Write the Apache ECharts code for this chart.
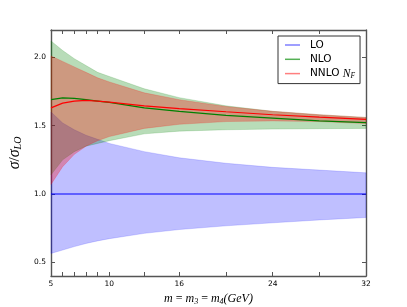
<!DOCTYPE html>
<html><head><meta charset="utf-8">
<script src="https://cdn.jsdelivr.net/npm/echarts@6/dist/echarts.min.js"></script>
<style>html,body{margin:0;padding:0;background:#fff}#c{width:407px;height:307px}</style>
</head><body><div id="c"></div>
<script>
const masses = [5, 6, 7, 8, 9, 10, 13, 16, 20, 24, 28, 32];
const xTickLabels = [5, 10, 16, 24, 32];
const yTickLabels = [0.5, 1.0, 1.5, 2.0];

const loCentral = [1, 1, 1, 1, 1, 1, 1, 1, 1, 1, 1, 1];
const loLower = [0.565, 0.59, 0.615, 0.638, 0.657, 0.673, 0.712, 0.74, 0.767, 0.789, 0.81, 0.828];
const loUpper = [1.60, 1.52, 1.47, 1.43, 1.40, 1.37, 1.31, 1.265, 1.225, 1.195, 1.175, 1.155];

const nloCentral = [1.69, 1.703, 1.70, 1.69, 1.68, 1.67, 1.63, 1.605, 1.575, 1.555, 1.535, 1.522];
const nloLower = [1.14, 1.25, 1.31, 1.35, 1.37, 1.39, 1.44, 1.46, 1.47, 1.475, 1.478, 1.48];
const nloUpper = [2.12, 2.05, 1.99, 1.94, 1.89, 1.86, 1.77, 1.705, 1.645, 1.605, 1.58, 1.56];

const nnloCentral = [1.63, 1.665, 1.68, 1.685, 1.68, 1.672, 1.645, 1.625, 1.602, 1.58, 1.562, 1.546];
const nnloLower = [1.07, 1.2, 1.29, 1.35, 1.39, 1.42, 1.48, 1.51, 1.53, 1.535, 1.53, 1.515];
const nnloUpper = [2.01, 1.97, 1.93, 1.89, 1.85, 1.82, 1.74, 1.69, 1.64, 1.605, 1.58, 1.56];

const pts = arr => masses.map((m, i) => [m, arr[i]]);

function band(key, lower, upper, fill, edge, z) {
  const rows = masses.map((m, i) => [m, lower[i], upper[i]]);
  return {
    name: key, type: 'custom', data: rows, encode: { x: 0, y: [1, 2] }, silent: true, z: z,
    renderItem: function (params, api) {
      if (params.dataIndex !== 0) return null;
      const top = rows.map(r => api.coord([r[0], r[2]]));
      const bot = rows.map(r => api.coord([r[0], r[1]])).reverse();
      return { type: 'polygon', shape: { points: top.concat(bot) },
        style: { fill: fill, stroke: edge, lineWidth: 0.6 } };
    }
  };
}
function line(name, arr, color) {
  return { name: name, type: 'line', data: pts(arr), showSymbol: false, z: 10,
    lineStyle: { color: color, width: 1.2 }, itemStyle: { color: color } };
}

const axisLine = { show: true, onZero: false, lineStyle: { color: '#555', width: 1.4 } };
const tickStyle = { lineStyle: { color: '#555', width: 1 } };
const mathFont = 'Liberation Serif';

const chart = echarts.init(document.getElementById('c'), null, { renderer: 'canvas' });
chart.setOption({
  animation: false,
  backgroundColor: '#fff',
  grid: { left: 51, top: 30, right: 41, bottom: 31, containLabel: false, outerBoundsMode: 'none' },
  xAxis: [
    { type: 'value', min: 5, max: 32, position: 'bottom', axisLine: axisLine,
      axisTick: Object.assign({ inside: true, length: 4, customValues: masses }, tickStyle),
      axisLabel: { customValues: xTickLabels, fontSize: 7.5, color: '#000', margin: 4, fontFamily: 'DejaVu Sans' },
      splitLine: { show: false },
      name: '{i|m} = {i|m}{s|3} = {i|m}{s|4}{i|(GeV)}', nameLocation: 'middle', nameGap: 12,
      nameTextStyle: { color: '#000', fontFamily: mathFont, fontSize: 12,
        rich: { i: { fontFamily: mathFont, fontStyle: 'italic', fontSize: 12 },
                s: { fontFamily: mathFont, fontStyle: 'italic', fontSize: 8, verticalAlign: 'bottom', padding: [5, 0, 0, 0] } } } },
    { type: 'value', min: 5, max: 32, position: 'top', axisLine: axisLine,
      axisTick: Object.assign({ inside: true, length: 4, customValues: masses }, tickStyle),
      axisLabel: { show: false }, splitLine: { show: false } }
  ],
  yAxis: [
    { type: 'value', min: 0.4, max: 2.2, position: 'left', axisLine: axisLine,
      axisTick: Object.assign({ inside: true, length: 4, customValues: yTickLabels }, tickStyle),
      axisLabel: { customValues: yTickLabels, fontSize: 7.5, color: '#000', margin: 5, fontFamily: 'DejaVu Sans',
        formatter: v => v.toFixed(1) },
      splitLine: { show: false },
      name: '{i|σ}/{i|σ}{s|LO}', nameLocation: 'middle', nameGap: 21, nameRotate: 90,
      nameTextStyle: { color: '#000', fontFamily: mathFont, fontSize: 15,
        rich: { i: { fontFamily: mathFont, fontStyle: 'italic', fontSize: 16 },
                s: { fontFamily: mathFont, fontStyle: 'italic', fontSize: 10, verticalAlign: 'bottom', padding: [6, 0, 0, 0] } } } },
    { type: 'value', min: 0.4, max: 2.2, position: 'right', axisLine: axisLine,
      axisTick: Object.assign({ inside: true, length: 4, customValues: yTickLabels }, tickStyle),
      axisLabel: { show: false }, splitLine: { show: false } }
  ],
  legend: {
    orient: 'vertical', left: 278, top: 36,
    backgroundColor: '#fff', borderColor: '#333', borderWidth: 1, borderRadius: 0,
    padding: [3, 5, 4, 7], itemGap: 2.3, itemWidth: 15, itemHeight: 1.5,
    icon: 'rect',
    data: [
      { name: 'LO', itemStyle: { color: '#7f7fff' } },
      { name: 'NLO', itemStyle: { color: '#55b055' } },
      { name: 'NNLO', itemStyle: { color: '#ff7f7f' } }
    ],
    formatter: n => n === 'NNLO' ? 'NNLO {i|N}{s|F}' : n,
    textStyle: { fontSize: 10.5, color: '#000', fontFamily: 'DejaVu Sans', lineHeight: 12, padding: [0, 0, 0, 5],
      rich: { i: { fontFamily: mathFont, fontStyle: 'italic', fontSize: 11.5 },
              s: { fontFamily: mathFont, fontStyle: 'italic', fontSize: 7.5, verticalAlign: 'bottom', padding: [4, 0, 0, 0] } } }
  },
  series: [
    band('lo', loLower, loUpper, 'rgba(0,0,255,0.25)', 'rgba(0,0,255,0.25)', 1),
    band('nlo', nloLower, nloUpper, 'rgba(0,128,0,0.28)', 'rgba(0,128,0,0.28)', 2),
    band('nnlo', nnloLower, nnloUpper, 'rgba(255,0,0,0.3)', 'rgba(255,0,0,0.3)', 3),
    line('LO', loCentral, '#0000ff'),
    line('NLO', nloCentral, '#008000'),
    line('NNLO', nnloCentral, '#ff0000')
  ]
});
</script></body></html>
